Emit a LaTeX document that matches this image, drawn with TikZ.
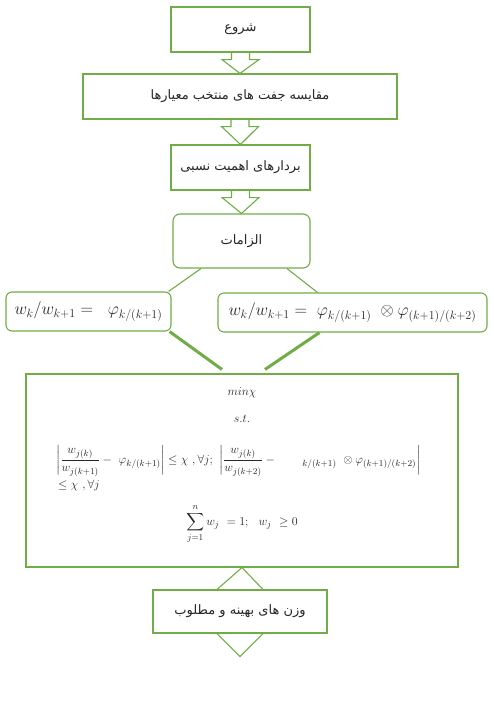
\documentclass[tikz,border=0pt]{standalone}
\usepackage{amsmath,amssymb}
\usepackage{fontspec}
\usetikzlibrary{calc}
\TeXXeTstate=1
\newfontfamily\arabicfont[Script=Arabic]{DejaVu Sans}
\definecolor{gr}{HTML}{70AD47}
\definecolor{tx}{HTML}{262626}
\newcommand{\fa}[1]{{\arabicfont\beginR #1\endR}}
\newcommand{\blockarr}[2]{%
  \draw[arrline] ($(#1.south)+(-9,0)$) -- ($(#1.south)+(-9,7)$) -- ($(#1.south)+(-18.5,7)$)
    -- (#2.north) -- ($(#1.south)+(18.5,7)$) -- ($(#1.south)+(9,7)$) -- ($(#1.south)+(9,0)$);}
\begin{document}
\begin{tikzpicture}[x=1pt,y=-1pt,
  box/.style={draw=gr,line width=1.1pt,fill=white,inner sep=0pt,text=tx,font=\fontsize{13}{15}\selectfont},
  rbox/.style={box,rounded corners=7pt},
  arrline/.style={draw=gr,line width=1.1pt,line join=miter},
  link/.style={draw=gr,line width=1.1pt},
  thick link/.style={draw=gr,line width=3pt},
  mth/.style={text=tx,inner sep=0pt,font=\fontsize{12.4}{14}\selectfont}]
\useasboundingbox (0,0) rectangle (494,710);

\node[box,minimum width=139pt,minimum height=45pt] (b1) at (240.5,29.5) {\fa{شروع}};
\node[box,minimum width=314pt,minimum height=45pt] (b2) at (240,96.5) {\fa{مقایسه جفت های منتخب معیارها}};
\node[box,minimum width=139pt,minimum height=45pt] (b3) at (240.5,167.5) {\fa{بردارهای اهمیت نسبی}};
\node[rbox,minimum width=137pt,minimum height=54pt] (b4) at (241.5,241) {\fa{الزامات}};

\blockarr{b1}{b2}
\blockarr{b2}{b3}
\blockarr{b3}{b4}

\node[rbox,rounded corners=6pt,minimum width=165pt,minimum height=39pt,font=\fontsize{16.5}{19}\selectfont] (lb) at (88.5,311.5)
  {$w_k/w_{k+1} =\ \ \varphi_{k/(k+1)}$};
\node[rbox,rounded corners=6pt,minimum width=269pt,minimum height=39pt,font=\fontsize{16.5}{19}\selectfont] (rb) at (352.5,312.5)
  {$w_k/w_{k+1} =\ \varphi_{k/(k+1)}\ \otimes\varphi_{(k+1)/(k+2)}$};

\draw[link] ($(b4.south)+(-40.5,0)$) -- ($(lb.north east)+(-3,0)$);
\draw[link] ($(b4.south)+(45.5,0)$) -- ($(rb.north west)+(100,0)$);

\node[box,minimum width=432pt,minimum height=193pt] (big) at (242,470.5) {};
\draw[thick link] ($(lb.south east)+(-2,0)$) -- ($(big.north)+(-20,-4)$);
\draw[thick link] ($(rb.south west)+(102,0)$) -- ($(big.north)+(23,-4)$);

\node[mth] (mn) at (242,393) {$min\chi$};
\node[mth] (st) at (242,419) {$s.t.$};
\node[mth,anchor=west] (l1) at (56,461)
  {$\left|\dfrac{w_{j(k)}}{w_{j(k+1)}}-\ \varphi_{k/(k+1)}\right|\le\chi\ ,\forall j;\ \left|\dfrac{w_{j(k)}}{w_{j(k+2)}}-\qquad{}_{k/(k+1)}\ \otimes\varphi_{(k+1)/(k+2)}\right|$};
\node[mth,anchor=west] (l2) at (58,485) {$\le\chi\ ,\forall j$};
\node[mth] (sm) at (242,524) {$\displaystyle\sum_{j=1}^{n} w_j\ = 1;\ \ w_j\ \ge 0$};

\node[box,minimum width=174pt,minimum height=43pt] (b6) at (240,611.5) {\fa{وزن های بهینه و مطلوب}};
\draw[arrline] ($(b6.north)+(-23,0)$) -- (big.south) -- ($(b6.north)+(23,0)$);
\draw[arrline] ($(b6.south)+(-23,0)$) -- ($(b6.south)+(0,23)$) -- ($(b6.south)+(23,0)$);
\end{tikzpicture}
\end{document}
